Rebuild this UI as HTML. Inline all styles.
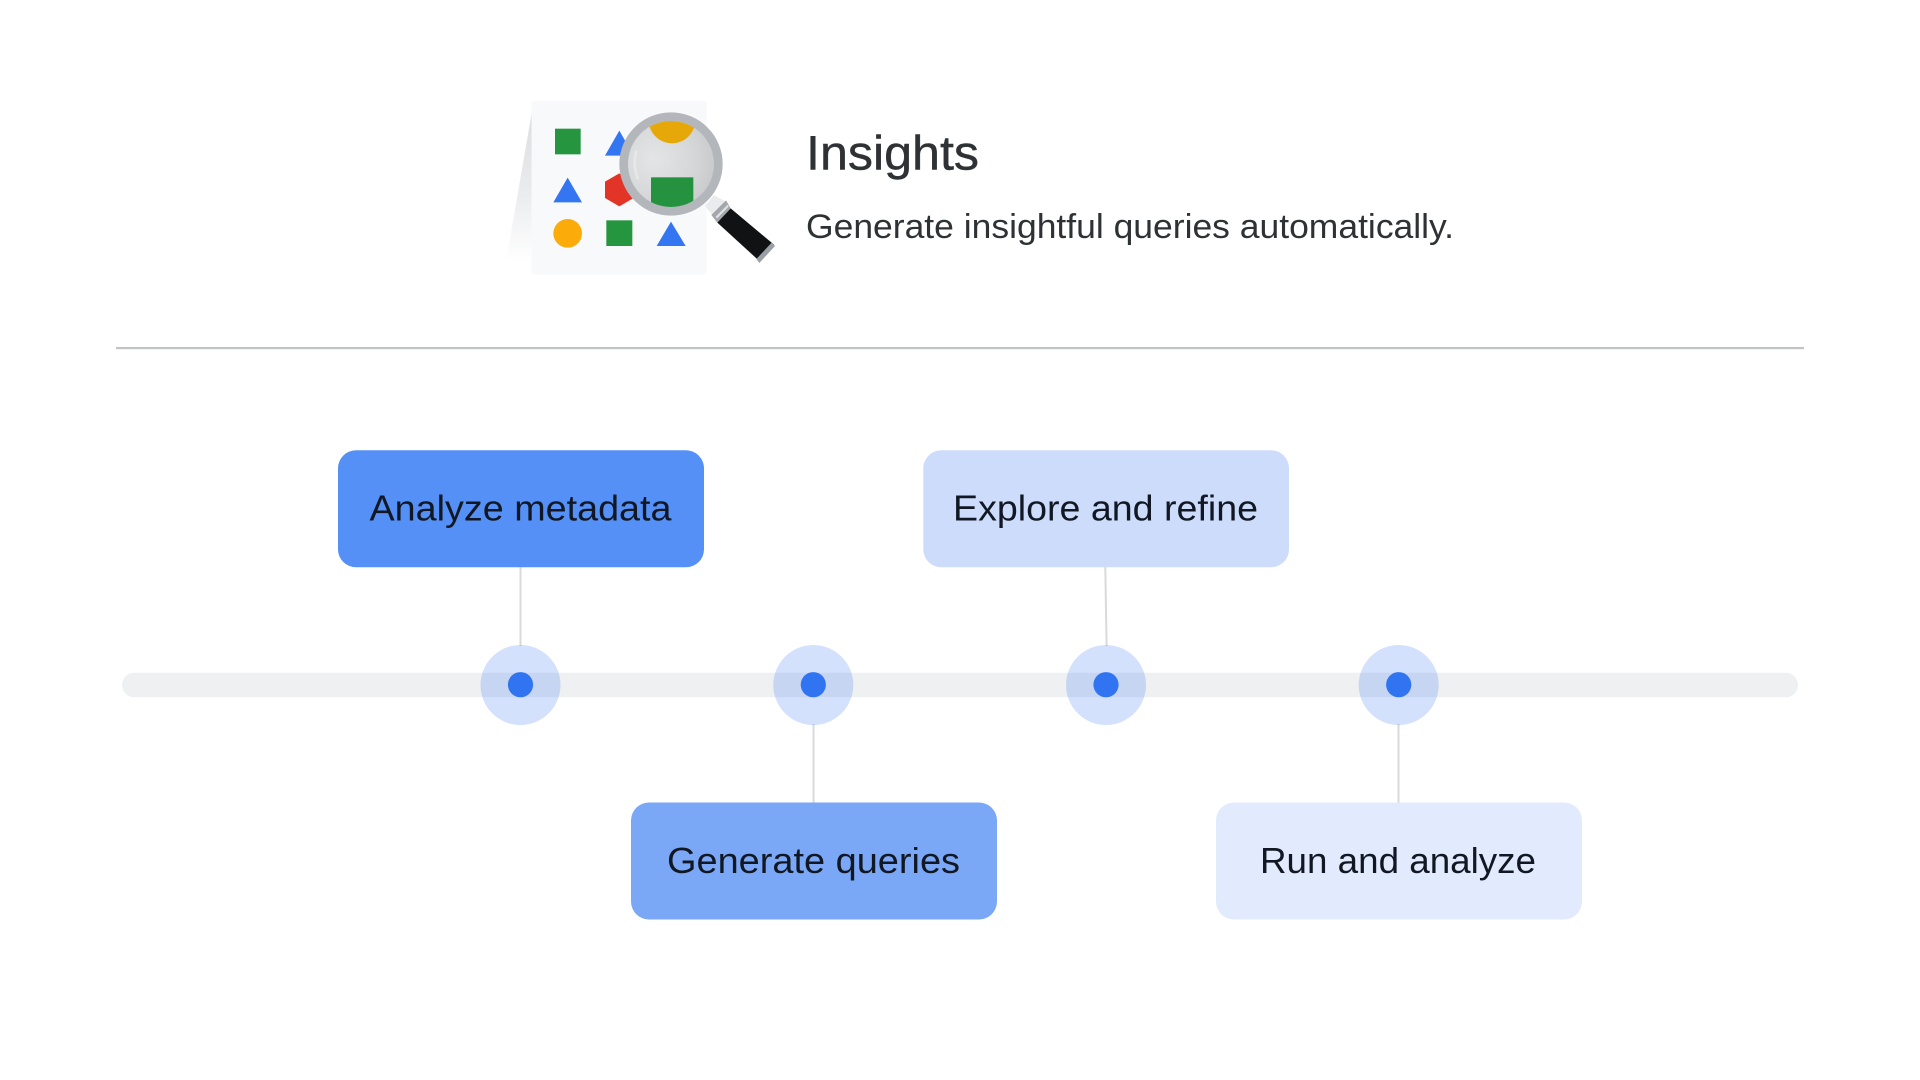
<!DOCTYPE html>
<html lang="en">
<head>
<meta charset="utf-8">
<title>Insights</title>
<style>
html,body{margin:0;padding:0;background:#fff;width:1920px;height:1080px;overflow:hidden}
svg{display:block}
text{font-family:"Liberation Sans",sans-serif}
.b{font-size:36px;fill:#111824}
</style>
</head>
<body>
<svg width="1920" height="1080" viewBox="0 0 1920 1080" xmlns="http://www.w3.org/2000/svg">
<defs>
<linearGradient id="sh" x1="0" y1="0" x2="0" y2="1">
<stop offset="0" stop-color="#dcdde0"/><stop offset=".55" stop-color="#ebecee"/><stop offset="1" stop-color="#ffffff"/>
</linearGradient>
<radialGradient id="lens" cx=".3" cy=".45" r=".8">
<stop offset="0" stop-color="#e4e5e6"/><stop offset=".6" stop-color="#d5d6d8"/><stop offset="1" stop-color="#c4c6c8"/>
</radialGradient>
<clipPath id="lc"><circle cx="543" cy="252" r="129"/></clipPath>
</defs>
<rect width="1920" height="1080" fill="#fff"/>

<!-- illustration (coordinates in 3x units) -->
<g transform="translate(490 80) scale(.33333)">
<polygon points="125,100 48,545 125,545" fill="url(#sh)"/>
<rect x="125" y="63" width="525" height="520" rx="8" fill="#f8f9fb"/>
<rect x="195" y="146" width="77" height="77" fill="#25953f"/>
<polygon points="388,152 345,227 431,227" fill="#3476f1"/>
<polygon points="233,293 190,367 276,367" fill="#3476f1"/>
<polygon points="388,280 431,305 431,354 388,379 345,354 345,305" fill="#e33527"/>
<circle cx="233" cy="460" r="43" fill="#fbac0a"/>
<rect x="349" y="421" width="78" height="77" fill="#25953f"/>
<polygon points="543,425 500,498 587,498" fill="#3476f1"/>
<polygon points="645,378 672,345 712,368 672,410" fill="#e9ebec"/>
<polygon points="664,405 708,361 722,385 682,428" fill="#a3a7ab"/>
<polygon points="677,410 713,374 716,380 681,416" fill="#dfe1e3"/>
<polygon points="682,428 722,385 852,494 808,543" fill="#101214"/>
<polygon points="845,488 855,498 808,549 799,537" fill="#9aa0a6"/>
<circle cx="543" cy="252" r="155" fill="#b3b7bb"/>
<circle cx="543" cy="252" r="129" fill="url(#lens)"/>
<g clip-path="url(#lc)">
<circle cx="546" cy="120" r="70" fill="#e6a809"/>
<rect x="483" y="292" width="127" height="100" fill="#25923f"/>
</g>
<path d="M438,215 Q428,255 443,295" fill="none" stroke="#eeeff0" stroke-width="8" stroke-linecap="round" opacity=".6"/>
</g>

<!-- header text -->
<text x="806" y="169.3" font-size="48" fill="#2f3235" stroke="#2f3235" stroke-width=".4" textLength="173" lengthAdjust="spacingAndGlyphs">Insights</text>
<text x="806" y="238" font-size="34" fill="#2f3235" textLength="648" lengthAdjust="spacingAndGlyphs">Generate insightful queries automatically.</text>

<!-- divider -->
<rect x="116" y="347" width="1688" height="2.2" fill="#c2c3c5"/>

<!-- connectors -->
<line x1="520.5" y1="567" x2="520.5" y2="646" stroke="#d9dadc" stroke-width="2"/>
<line x1="813.5" y1="724" x2="813.5" y2="803" stroke="#d9dadc" stroke-width="2"/>
<line x1="1105.3" y1="567" x2="1106.6" y2="646" stroke="#d9dadc" stroke-width="2"/>
<line x1="1398.5" y1="724" x2="1398.5" y2="803" stroke="#d9dadc" stroke-width="2"/>

<!-- track -->
<rect x="122" y="672.7" width="1676" height="24.6" rx="12.3" fill="#eef0f2"/>

<!-- nodes -->
<g fill="#3373f0" fill-opacity=".21">
<circle cx="520.5" cy="685" r="40"/>
<circle cx="813.3" cy="685" r="40"/>
<circle cx="1106" cy="685" r="40"/>
<circle cx="1398.7" cy="685" r="40"/>
</g>
<g fill="#3174f1">
<circle cx="520.5" cy="684.7" r="12.6"/>
<circle cx="813.3" cy="684.7" r="12.6"/>
<circle cx="1106" cy="684.7" r="12.6"/>
<circle cx="1398.7" cy="684.7" r="12.6"/>
</g>

<!-- boxes -->
<rect x="338" y="450.3" width="366" height="117" rx="18" fill="#5490f5"/>
<rect x="923.3" y="450.3" width="365.7" height="117" rx="18" fill="#cddcfb"/>
<rect x="631" y="802.5" width="366" height="117" rx="18" fill="#7ba7f7"/>
<rect x="1216" y="802.5" width="366" height="117" rx="18" fill="#e2ebfd"/>

<text class="b" x="369.5" y="520.5" textLength="302" lengthAdjust="spacingAndGlyphs">Analyze metadata</text>
<text class="b" x="953" y="520.5" textLength="305" lengthAdjust="spacingAndGlyphs">Explore and refine</text>
<text class="b" x="667" y="873" textLength="293" lengthAdjust="spacingAndGlyphs">Generate queries</text>
<text class="b" x="1260" y="873" textLength="276" lengthAdjust="spacingAndGlyphs">Run and analyze</text>
</svg>
</body>
</html>
